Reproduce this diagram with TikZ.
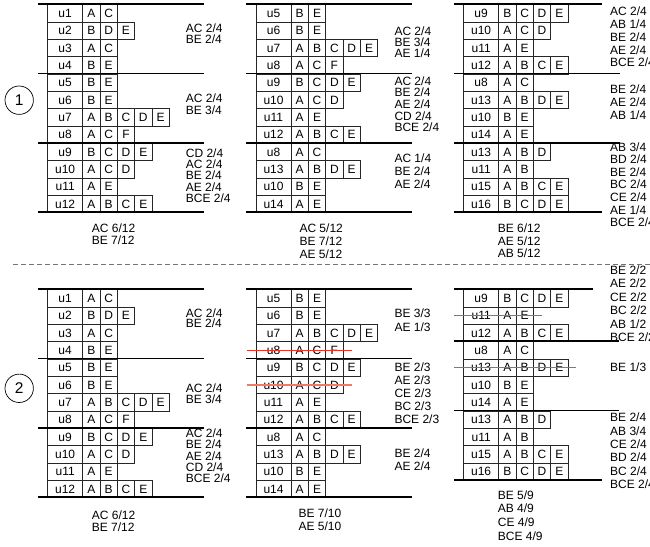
\documentclass[tikz,border=0pt]{standalone}
\usepackage{fontspec}
\setmainfont{Liberation Sans}
\usetikzlibrary{positioning}
\definecolor{strikered}{RGB}{232,52,36}
\definecolor{strikepink}{RGB}{241,122,102}
\definecolor{strikemid}{RGB}{236,78,56}

\tikzset{
  ucell/.style={draw=black!85, line width=0.7pt, minimum width=35pt, minimum height=17.33pt, inner sep=0pt, anchor=north west,
    font=\fontsize{12}{13}\selectfont, text height=8.6pt, text depth=0pt},
  lcell/.style={ucell, minimum width=17.33pt},
  lab/.style={anchor=west, inner sep=0pt, font=\fontsize{12}{13}\selectfont, text height=8.6pt, text depth=0pt},
  grpline/.style={line width=1.7pt},
  strike/.style={line width=1.1pt},
  dashline/.style={black!55, line width=0.8pt, dash pattern=on 5pt off 3pt},
  numcirc/.style={draw, circle, line width=0.7pt, minimum size=28.4pt, inner sep=0pt, font=\fontsize{15.5}{16}\selectfont}
}

% one row: panel, row, x, top, user, items
\newcommand{\cellrow}[6]{%
  \node[ucell] (#1r#2) at (#3,{#4+(#2-1)*17.33}) {#5};
  \foreach \l [count=\c] in {#6}
    \node[lcell] (#1r#2c\c) at ({#3+35+(\c-1)*17.33},{#4+(#2-1)*17.33}) {\l};
}
% labels: name, x, first y, spacing, list
\newcommand{\grplabels}[5]{%
  \foreach \t [count=\i] in {#5}
    \node[lab] (#1l\i) at (#2,{#3+(\i-1)*#4}) {\t};
}
\newcommand{\rowsfirst}[3]{%
  \cellrow{#1}{1}{#2}{#3}{u1}{A,C}   \cellrow{#1}{2}{#2}{#3}{u2}{B,D,E}
  \cellrow{#1}{3}{#2}{#3}{u3}{A,C}   \cellrow{#1}{4}{#2}{#3}{u4}{B,E}
  \cellrow{#1}{5}{#2}{#3}{u5}{B,E}   \cellrow{#1}{6}{#2}{#3}{u6}{B,E}
  \cellrow{#1}{7}{#2}{#3}{u7}{A,B,C,D,E} \cellrow{#1}{8}{#2}{#3}{u8}{A,C,F}
  \cellrow{#1}{9}{#2}{#3}{u9}{B,C,D,E} \cellrow{#1}{10}{#2}{#3}{u10}{A,C,D}
  \cellrow{#1}{11}{#2}{#3}{u11}{A,E} \cellrow{#1}{12}{#2}{#3}{u12}{A,B,C,E}
}
\newcommand{\rowssecond}[3]{%
  \cellrow{#1}{1}{#2}{#3}{u5}{B,E}   \cellrow{#1}{2}{#2}{#3}{u6}{B,E}
  \cellrow{#1}{3}{#2}{#3}{u7}{A,B,C,D,E} \cellrow{#1}{4}{#2}{#3}{u8}{A,C,F}
  \cellrow{#1}{5}{#2}{#3}{u9}{B,C,D,E} \cellrow{#1}{6}{#2}{#3}{u10}{A,C,D}
  \cellrow{#1}{7}{#2}{#3}{u11}{A,E}  \cellrow{#1}{8}{#2}{#3}{u12}{A,B,C,E}
  \cellrow{#1}{9}{#2}{#3}{u8}{A,C}   \cellrow{#1}{10}{#2}{#3}{u13}{A,B,D,E}
  \cellrow{#1}{11}{#2}{#3}{u10}{B,E} \cellrow{#1}{12}{#2}{#3}{u14}{A,E}
}

\begin{document}
\begin{tikzpicture}[x=1pt,y=-1pt]
  \useasboundingbox (0,0) rectangle (650,546);

  % upper half
  \node[numcirc] (n1) at (19.2,100.2) {1};
  \rowsfirst{p1}{47.3}{4.3}
  \foreach \y in {4.3,73.6,142.9,212.3} \draw[grpline] (38.3,\y) -- (204,\y);
  \grplabels{p1a}{185.7}{28}{11.5}{AC 2/4,BE 2/4}
  \grplabels{p1b}{185.7}{98.3}{11.7}{AC 2/4,BE 3/4}
  \grplabels{p1c}{185.7}{153}{11.3}{CD 2/4,AC 2/4,BE 2/4,AE 2/4,BCE 2/4}
  \grplabels{p1s}{91.7}{228.3}{11.7}{AC 6/12,BE 7/12}

  \rowssecond{p2}{255.7}{4.3}
  \foreach \y in {4.3,73.6,142.9,212.3} \draw[grpline] (246,\y) -- (412,\y);
  \grplabels{p2a}{394.3}{31}{11.2}{AC 2/4,BE 3/4,AE 1/4}
  \grplabels{p2b}{394.3}{81}{11.6}{AC 2/4,BE 2/4,AE 2/4,CD 2/4,BCE 2/4}
  \grplabels{p2c}{394.3}{158.3}{13}{AC 1/4,BE 2/4,AE 2/4}
  \grplabels{p2s}{299.3}{228.3}{12.8}{AC 5/12,BE 7/12,AE 5/12}

  \cellrow{p3}{1}{463.3}{4.3}{u9}{B,C,D,E}   \cellrow{p3}{2}{463.3}{4.3}{u10}{A,C,D}
  \cellrow{p3}{3}{463.3}{4.3}{u11}{A,E}      \cellrow{p3}{4}{463.3}{4.3}{u12}{A,B,C,E}
  \cellrow{p3}{5}{463.3}{4.3}{u8}{A,C}       \cellrow{p3}{6}{463.3}{4.3}{u13}{A,B,D,E}
  \cellrow{p3}{7}{463.3}{4.3}{u10}{B,E}      \cellrow{p3}{8}{463.3}{4.3}{u14}{A,E}
  \cellrow{p3}{9}{463.3}{4.3}{u13}{A,B,D}    \cellrow{p3}{10}{463.3}{4.3}{u11}{A,B}
  \cellrow{p3}{11}{463.3}{4.3}{u15}{A,B,C,E} \cellrow{p3}{12}{463.3}{4.3}{u16}{B,C,D,E}
  \draw[grpline] (454,4.3) -- (602,4.3); \draw[grpline] (454,73.6) -- (620,73.6);
  \draw[grpline] (454,142.9) -- (620,142.9); \draw[grpline] (454,212.3) -- (602,212.3);
  \grplabels{p3a}{610}{11.7}{12.7}{AC 2/4,AB 1/4,BE 2/4,AE 2/4,BCE 2/4}
  \grplabels{p3b}{610}{89}{13.2}{BE 2/4,AE 2/4,AB 1/4}
  \grplabels{p3c}{610}{146.7}{12.6}{AB 3/4,BD 2/4,BE 2/4,BC 2/4,CE 2/4,AE 1/4,BCE 2/4}
  \grplabels{p3s}{497.7}{228.3}{12.5}{BE 6/12,AE 5/12,AB 5/12}

  \draw[dashline] (13,264) -- (650,264);

  % lower half
  \node[numcirc] (n2) at (19.2,388.3) {2};
  \rowsfirst{p4}{47.3}{289.3}
  \foreach \y in {289.3,358.6,427.9,497.3} \draw[grpline] (38.3,\y) -- (204,\y);
  \grplabels{p4a}{185.7}{312.7}{10.8}{AC 2/4,BE 2/4}
  \grplabels{p4b}{185.7}{388.3}{11}{AC 2/4,BE 3/4}
  \grplabels{p4c}{185.7}{433.3}{11.25}{AC 2/4,BE 2/4,AE 2/4,CD 2/4,BCE 2/4}
  \grplabels{p4s}{91.7}{515}{11.7}{AC 6/12,BE 7/12}

  \rowssecond{p5}{255.7}{289.3}
  \foreach \y in {289.3,358.6,427.9,497.3} \draw[grpline] (246,\y) -- (412,\y);
  \draw[strike, strikered] ([xshift=-9pt]p5r4.west) -- ([xshift=8.5pt]p5r4c3.east);
  \draw[strike, strikepink, line width=1.3pt] ([xshift=-9pt]p5r6.west) -- ([xshift=8.5pt]p5r6c3.east);
  \grplabels{p5a}{394.3}{313.3}{13.4}{BE 3/3,AE 1/3}
  \grplabels{p5b}{394.3}{366.7}{13.15}{BE 2/3,AE 2/3,CE 2/3,BC 2/3,BCE 2/3}
  \grplabels{p5c}{394.3}{452.7}{13.3}{BE 2/4,AE 2/4}
  \grplabels{p5s}{298.3}{513.3}{12.7}{BE 7/10,AE 5/10}

  \cellrow{p6}{1}{463.3}{289.3}{u9}{B,C,D,E}   \cellrow{p6}{2}{463.3}{289.3}{u11}{A,E}
  \cellrow{p6}{3}{463.3}{289.3}{u12}{A,B,C,E}  \cellrow{p6}{4}{463.3}{289.3}{u8}{A,C}
  \cellrow{p6}{5}{463.3}{289.3}{u13}{A,B,D,E}  \cellrow{p6}{6}{463.3}{289.3}{u10}{B,E}
  \cellrow{p6}{7}{463.3}{289.3}{u14}{A,E}      \cellrow{p6}{8}{463.3}{289.3}{u13}{A,B,D}
  \cellrow{p6}{9}{463.3}{289.3}{u11}{A,B}      \cellrow{p6}{10}{463.3}{289.3}{u15}{A,B,C,E}
  \cellrow{p6}{11}{463.3}{289.3}{u16}{B,C,D,E}
  \draw[grpline] (454,289.3) -- (593.3,289.3); \draw[grpline] (454,341.3) -- (619,341.3);
  \draw[grpline] (454,410.6) -- (619,410.6); \draw[grpline] (454,479.9) -- (601.7,479.9);
  \draw[strike, strikemid] ([xshift=-9.3pt]p6r2.west) -- ([xshift=8pt]p6r2c2.east);
  \draw[strike, strikemid] ([xshift=-9.3pt]p6r5.west) -- ([xshift=8pt]p6r5c4.east);
  \grplabels{p6a}{610}{270}{13.5}{BE 2/2,AE 2/2,CE 2/2,BC 2/2,AB 1/2,BCE 2/2}
  \grplabels{p6b}{610}{366.7}{0}{BE 1/3}
  \grplabels{p6c}{610}{417.3}{13.4}{BE 2/4,AB 3/4,CE 2/4,BD 2/4,BC 2/4,BCE 2/4}
  \grplabels{p6s}{497.7}{495}{13.67}{BE 5/9,AB 4/9,CE 4/9,BCE 4/9}
\end{tikzpicture}
\end{document}
